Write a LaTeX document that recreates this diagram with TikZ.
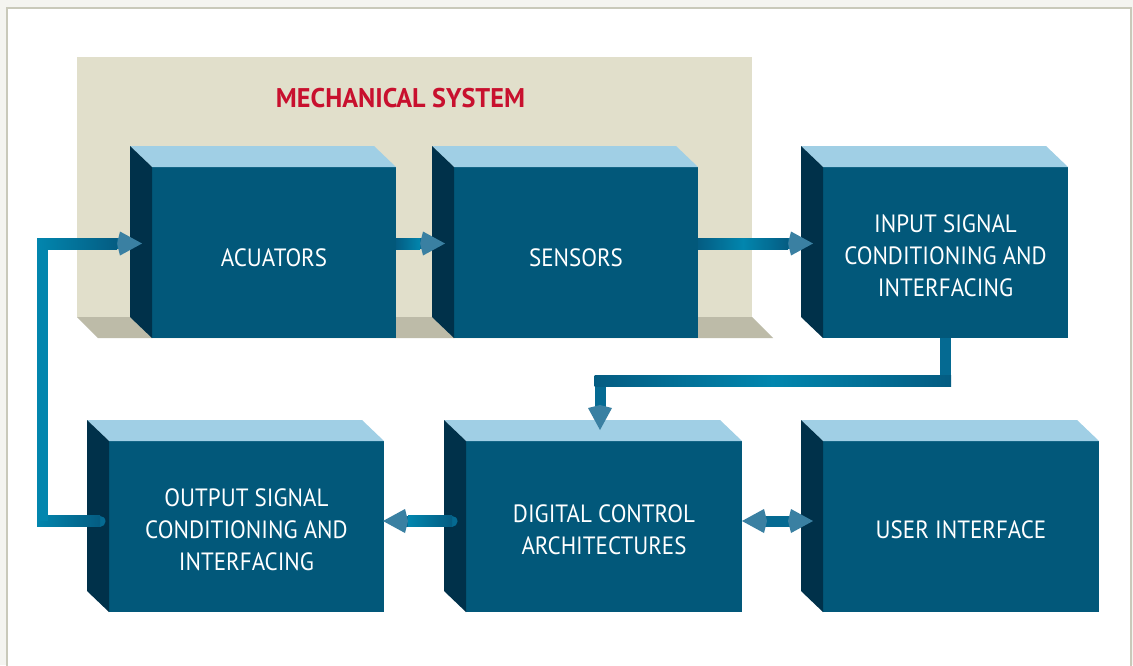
\documentclass[tikz,border=0pt]{standalone}
\usepackage{fontspec}
\setmainfont{PT Sans}
\newfontfamily\blockfont{PT Sans}[FakeStretch=0.92]
\newfontfamily\titlefont{PT Sans Bold}[FakeStretch=0.97]
\usetikzlibrary{calc,arrows.meta}
\definecolor{bgc}{HTML}{F4F4F0}
\definecolor{framec}{HTML}{C9C9BA}
\definecolor{panelc}{HTML}{E1DFCB}
\definecolor{floorc}{HTML}{BDBBA8}
\definecolor{frontc}{HTML}{02587A}
\definecolor{sidec}{HTML}{00314A}
\definecolor{topc}{HTML}{A0CFE5}
\definecolor{titlec}{HTML}{C8102E}
\definecolor{connc}{HTML}{056A92}
\definecolor{cdark}{HTML}{045C82}
\definecolor{clight}{HTML}{0286AE}
\definecolor{tipc}{HTML}{3A80A2}
\tikzset{
  frontface/.style={rectangle, fill=frontc, draw=none, inner sep=0pt, outer sep=0pt, minimum height=171pt},
  blocktext/.style={text=white, align=center, font=\blockfont\fontsize{25}{32}\selectfont, inner sep=0pt},
  conn/.style={draw=connc, line width=11pt},
  tiphead/.tip={Kite[length=25pt, width=24pt, inset=3pt, fill=tipc, color=tipc, line width=0pt]},
}
\newcommand\drawblock[5]{%
  \node[frontface, minimum width=#3] (#1) at (#2) {};
  \fill[topc] (#1.north west) -- ++(-22,-21) -- ($(#1.north east)+(-22,-21)$) -- (#1.north east) -- cycle;
  \fill[sidec] (#1.north west) -- ++(-22,-21) -- ($(#1.south west)+(-22,-21)$) -- (#1.south west) -- cycle;
  \node[blocktext] (#1-t) at ($(#1.center)+(0,#5)$) {#4};
}
\begin{document}
\begin{tikzpicture}[x=1pt,y=-1pt]
\useasboundingbox (0,0) rectangle (1133,665);
\fill[bgc] (0,0) rectangle (1133,665);
\fill[white] (7,8) rectangle (1131,672);
\draw[framec, line width=2pt] (7,672) -- (7,8) -- (1131,8) -- (1131,672);
% mechanical system panel
\fill[panelc] (77,57) rectangle (752,317);
\fill[floorc] (77,317) -- (752,317) -- (773,338) -- (98,338) -- cycle;
\node[text=titlec, font=\titlefont\fontsize{27}{32}\selectfont, inner sep=0pt] (title) at (400.5,98.5) {MECHANICAL SYSTEM};
% blocks
\drawblock{acu}{274,252.5}{244pt}{ACUATORS}{5.5}
\drawblock{sen}{576,252.5}{244pt}{SENSORS}{5.5}
\drawblock{inp}{945.5,252.5}{245pt}{INPUT SIGNAL\\CONDITIONING AND\\INTERFACING}{3}
\drawblock{out}{246.5,526.5}{275pt}{OUTPUT SIGNAL\\CONDITIONING AND\\INTERFACING}{3}
\drawblock{dig}{604,526.5}{276pt}{DIGITAL CONTROL\\ARCHITECTURES}{3}
\drawblock{usr}{961,526.5}{276pt}{USER INTERFACE}{3}
% connectors
\draw[conn, -tiphead] ($(acu.east)+(0,-9)$) -- ($(sen.west)+(-9,-9)$);
\draw[conn, -tiphead] ($(sen.east)+(0,-9)$) -- ($(inp.west)+(-10,-9)$);
\draw[conn, -tiphead] (inp.south) -- ++(0,43) -| ($(dig.north)+(-4,-11)$);
\draw[conn, line cap=round, -tiphead] ($(dig.west)+(-14,-5.5)$) -- ($(out.east)+(-1,-5.5)$);
\draw[conn, line cap=round, -tiphead] ($(out.west)+(-9,-5.5)$) -- ++(-57.5,0) |- ($(acu.west)+(-10,-9)$);
\draw[conn, tiphead-tiphead] ($(dig.east)+(0,-5.5)$) -- ($(usr.west)+(-10,-5.5)$);
% gradient sheen on the connector bodies
\shade[left color=cdark, right color=clight] ($(acu.east)+(0,-14.5)$) rectangle ($(sen.west)+(-34,-3.5)$);
\shade[left color=cdark, right color=cdark, middle color=clight] ($(sen.east)+(0,-14.5)$) rectangle ($(inp.west)+(-35,-3.5)$);
\shade[left color=cdark, right color=cdark, middle color=clight] ($(dig.north |- inp.south)+(-9.5,37.5)$) rectangle ($(inp.south)+(5.5,48.5)$);
\shade[left color=clight, right color=cdark] ($(out.east)+(24,-11)$) rectangle ($(dig.west)+(-14,0)$);
\shade[left color=clight, right color=cdark] ($(out.west)+(-72,-11)$) rectangle ($(out.west)+(-9,0)$);
\fill[clight] ($(out.west)+(-72,-5.5)$) rectangle ($(acu.west)+(-104,-9)$);
\shade[left color=clight, right color=cdark] ($(acu.west)+(-115,-14.5)$) rectangle ($(acu.west)+(-35,-3.5)$);
\end{tikzpicture}
\end{document}
